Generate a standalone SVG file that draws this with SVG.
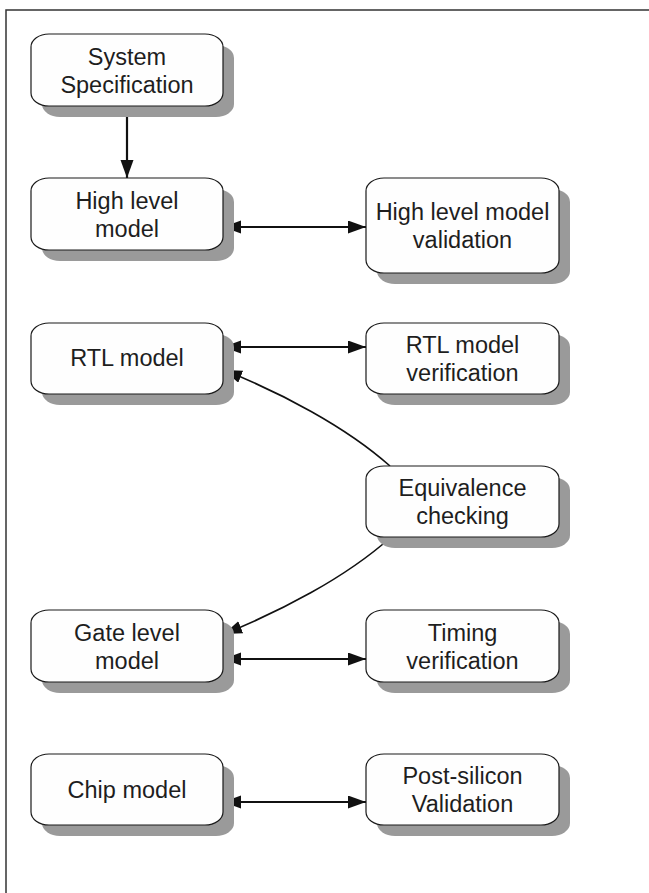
<svg xmlns="http://www.w3.org/2000/svg" width="649" height="893" viewBox="0 0 649 893">
<defs>
<style>
.box{fill:#fefefe;stroke:#1a1a1a;stroke-width:1.2}
.sh{fill:#9a9a9a}
.t{font-family:"Liberation Sans",Arial,sans-serif;font-size:23.5px;fill:#1e1e1e;text-anchor:middle}
.c{fill:none;stroke:#111;stroke-width:2.2}
.cv{fill:none;stroke:#111;stroke-width:1.6}
</style>
<marker id="ah" markerUnits="userSpaceOnUse" markerWidth="19" markerHeight="14" refX="18" refY="6.5" orient="auto-start-reverse">
<path d="M0,0 L18,6.5 L0,13 z" fill="#111"/>
</marker>
</defs>
<rect width="649" height="893" fill="#fff"/>
<path d="M6,893 V10 H649" fill="none" stroke="#333" stroke-width="1.5"/>

<g id="connectors">
<line class="c" x1="127" y1="106" x2="127" y2="178" marker-end="url(#ah)"/>
<line class="c" x1="223" y1="227" x2="366" y2="227" marker-start="url(#ah)" marker-end="url(#ah)"/>
<line class="c" x1="223" y1="347" x2="366" y2="347" marker-start="url(#ah)" marker-end="url(#ah)"/>
<line class="c" x1="223" y1="659" x2="366" y2="659" marker-start="url(#ah)" marker-end="url(#ah)"/>
<line class="c" x1="223" y1="802" x2="366" y2="802" marker-start="url(#ah)" marker-end="url(#ah)"/>
<path class="cv" d="M390,466 C345,426 280,392.5 224,370" marker-end="url(#ah)"/>
<path class="cv" d="M390,538 C345,578 280,611.5 224,634" marker-end="url(#ah)"/>
</g>

<g id="sys">
<rect class="sh" x="42" y="45" width="192" height="72" rx="18" ry="13"/>
<rect class="box" x="31" y="34" width="192" height="72" rx="18" ry="13"/>
<text class="t" x="127" y="65">System</text>
<text class="t" x="127" y="93">Specification</text>
</g>

<g id="hl">
<rect class="sh" x="42" y="189" width="192" height="72" rx="18" ry="13"/>
<rect class="box" x="31" y="178" width="192" height="72" rx="18" ry="13"/>
<text class="t" x="127" y="209">High level</text>
<text class="t" x="127" y="237">model</text>
</g>

<g id="hlv">
<rect class="sh" x="377" y="189" width="193" height="95" rx="18" ry="13"/>
<rect class="box" x="366" y="178" width="193" height="95" rx="18" ry="13"/>
<text class="t" x="462.5" y="220">High level model</text>
<text class="t" x="462.5" y="248">validation</text>
</g>

<g id="rtl">
<rect class="sh" x="42" y="334" width="192" height="71" rx="18" ry="13"/>
<rect class="box" x="31" y="323" width="192" height="71" rx="18" ry="13"/>
<text class="t" x="127" y="366">RTL model</text>
</g>

<g id="rtlv">
<rect class="sh" x="377" y="334" width="193" height="71" rx="18" ry="13"/>
<rect class="box" x="366" y="323" width="193" height="71" rx="18" ry="13"/>
<text class="t" x="462.5" y="353">RTL model</text>
<text class="t" x="462.5" y="381">verification</text>
</g>

<g id="eq">
<rect class="sh" x="377" y="477" width="193" height="71" rx="18" ry="13"/>
<rect class="box" x="366" y="466" width="193" height="71" rx="18" ry="13"/>
<text class="t" x="462.5" y="496">Equivalence</text>
<text class="t" x="462.5" y="524">checking</text>
</g>

<g id="gate">
<rect class="sh" x="42" y="621" width="192" height="72" rx="18" ry="13"/>
<rect class="box" x="31" y="610" width="192" height="72" rx="18" ry="13"/>
<text class="t" x="127" y="641">Gate level</text>
<text class="t" x="127" y="669">model</text>
</g>

<g id="timing">
<rect class="sh" x="377" y="621" width="193" height="72" rx="18" ry="13"/>
<rect class="box" x="366" y="610" width="193" height="72" rx="18" ry="13"/>
<text class="t" x="462.5" y="641">Timing</text>
<text class="t" x="462.5" y="669">verification</text>
</g>

<g id="chip">
<rect class="sh" x="42" y="765" width="192" height="71" rx="18" ry="13"/>
<rect class="box" x="31" y="754" width="192" height="71" rx="18" ry="13"/>
<text class="t" x="127" y="798">Chip model</text>
</g>

<g id="post">
<rect class="sh" x="377" y="765" width="193" height="71" rx="18" ry="13"/>
<rect class="box" x="366" y="754" width="193" height="71" rx="18" ry="13"/>
<text class="t" x="462.5" y="784">Post-silicon</text>
<text class="t" x="462.5" y="812">Validation</text>
</g>
</svg>
